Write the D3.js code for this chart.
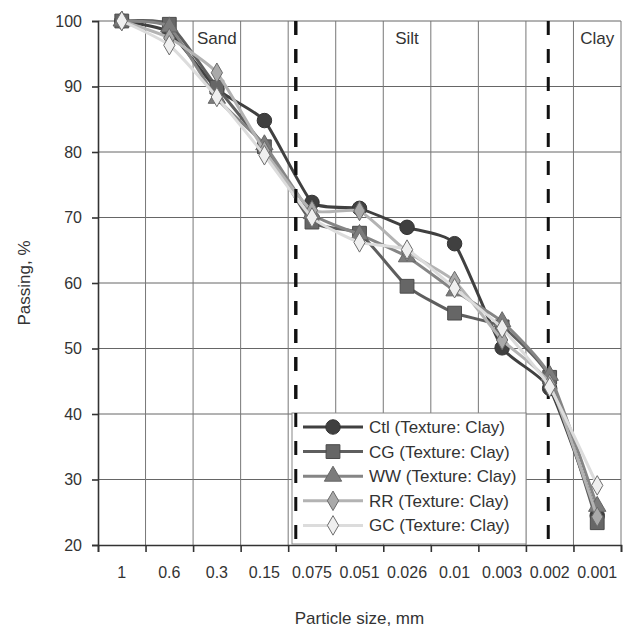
<!DOCTYPE html>
<html>
<head>
<meta charset="utf-8">
<script src="https://cdn.jsdelivr.net/npm/d3@7"></script>
<style>
  body { margin: 0; background: #fff; }
  text { font-family: "Liberation Sans", Arial, sans-serif; fill: #333; }
</style>
</head>
<body>
<div id="chart"></div>
<script>
// --------------------------------------
//  Data
// --------------------------------------

const sizes = ["1", "0.6", "0.3", "0.15", "0.075", "0.051", "0.026", "0.01", "0.003", "0.002", "0.001"];

const ctl = [100, 98.3, 89.6, 84.8, 72.3, 71.4, 68.5, 66.0, 50.1, 43.9, 24.5];
const cg  = [100, 99.5, 89.9, 80.8, 69.3, 67.6, 59.5, 55.4, 53.3, 45.6, 23.4];
const ww  = [100, 99.1, 88.2, 81.1, 70.6, 67.4, 64.0, 58.8, 54.1, 45.9, 25.9];
const rr  = [100, 97.4, 92.1, 80.2, 71.1, 71.0, 64.8, 60.3, 51.3, 44.6, 24.3];
const gc  = [100, 96.3, 88.4, 79.5, 70.0, 66.2, 65.1, 59.2, 53.1, 44.1, 29.1];

const seriesNames = ["Ctl (Texture: Clay)", "CG (Texture: Clay)", "WW (Texture: Clay)", "RR (Texture: Clay)", "GC (Texture: Clay)"];

const zones = [
  {name: "Sand", at: "0.3"},
  {name: "Silt", at: "0.026"},
  {name: "Clay", at: "0.001"}
];
// zone limits, in category units from the left edge
const zoneBreaks = [4.16, 9.47];

const yTicks = [20, 30, 40, 50, 60, 70, 80, 90, 100];

// --------------------------------------
//  Canvas
// --------------------------------------

const width = 634;
const height = 630;
const margin = {top: 21, right: 13, bottom: 85, left: 98};
const innerwidth = width - margin.left - margin.right;
const innerheight = height - margin.top - margin.bottom;

const svg = d3.select("#chart")
  .append("svg")
    .attr("width", width)
    .attr("height", height);

const inner = svg.append("g")
    .attr("transform", `translate(${margin.left}, ${margin.top})`);

// --------------------------------------
//  Scales
// --------------------------------------

const x = d3.scaleBand()
    .domain(sizes)
    .range([0, innerwidth])
    .padding(0);

const xi = d3.scaleLinear()
    .domain([0, sizes.length])
    .range([0, innerwidth]);

const y = d3.scaleLinear()
    .domain([20, 100])
    .range([innerheight, 0]);

const cx = d => x(d) + x.bandwidth() / 2;

// --------------------------------------
//  Grid
// --------------------------------------

inner.append("g")
  .selectAll("line")
  .data(yTicks.slice(1))
  .join("line")
    .attr("x1", 0)
    .attr("x2", innerwidth)
    .attr("y1", d => y(d))
    .attr("y2", d => y(d))
    .attr("stroke", "#666")
    .attr("stroke-width", 1);

inner.append("g")
  .selectAll("line")
  .data(d3.range(1, sizes.length + 1))
  .join("line")
    .attr("x1", d => xi(d))
    .attr("x2", d => xi(d))
    .attr("y1", 0)
    .attr("y2", innerheight)
    .attr("stroke", "#777")
    .attr("stroke-width", 1);

// zone dividers
inner.append("g")
  .selectAll("line")
  .data(zoneBreaks)
  .join("line")
    .attr("x1", d => xi(d))
    .attr("x2", d => xi(d))
    .attr("y1", 0)
    .attr("y2", innerheight)
    .attr("stroke", "#111")
    .attr("stroke-width", 3)
    .attr("stroke-dasharray", "14 14");

inner.append("g")
  .selectAll("text")
  .data(zones)
  .join("text")
    .attr("x", d => cx(d.at))
    .attr("y", 23)
    .attr("text-anchor", "middle")
    .attr("font-size", 17)
    .text(d => d.name);

// --------------------------------------
//  Axes
// --------------------------------------

const yAxis = inner.append("g")
    .call(d3.axisLeft(y)
      .tickValues(yTicks)
      .tickSize(6)
      .tickPadding(10));

const xTicks = inner.append("g")
    .attr("transform", `translate(0, ${innerheight})`)
    .call(d3.axisBottom(xi)
      .tickValues(d3.range(0, sizes.length + 1))
      .tickFormat("")
      .tickSize(7));

const xLabels = inner.append("g")
    .attr("transform", `translate(0, ${innerheight})`)
    .call(d3.axisBottom(x)
      .tickSize(0)
      .tickPadding(22));
xLabels.select(".domain").remove();

[yAxis, xTicks].forEach(g => {
  g.select(".domain").attr("stroke", "#333").attr("stroke-width", 1.6);
  g.selectAll(".tick line").attr("stroke", "#333").attr("stroke-width", 1.6);
});
[yAxis, xLabels].forEach(g => {
  g.selectAll("text")
    .attr("font-family", "Liberation Sans, Arial, sans-serif")
    .attr("font-size", 16)
    .attr("fill", "#333");
});

svg.append("text")
    .attr("x", margin.left + innerwidth / 2)
    .attr("y", 624)
    .attr("text-anchor", "middle")
    .attr("font-size", 17)
    .text("Particle size, mm");

svg.append("text")
    .attr("transform", `translate(30, ${margin.top + innerheight / 2}) rotate(-90)`)
    .attr("text-anchor", "middle")
    .attr("font-size", 17)
    .text("Passing, %");

// --------------------------------------
//  Series
// --------------------------------------

const styles = [
  {values: ctl, line: "#404040", fill: "#404040", stroke: "#333", shape: d3.symbolCircle, size: 165},
  {values: cg,  line: "#5e5e5e", fill: "#666",    stroke: "#4a4a4a", shape: d3.symbolSquare, size: 190},
  {values: ww,  line: "#858585", fill: "#7c7c7c", stroke: "#666", shape: d3.symbolTriangle, size: 130},
  {values: rr,  line: "#b3b3b3", fill: "#a9a9a9", stroke: "#6a6a6a", shape: d3.symbolDiamond, size: 110},
  {values: gc,  line: "#dcdcdc", fill: "#efefef", stroke: "#6e6e6e", shape: d3.symbolDiamond, size: 110}
];

const line = d3.line()
    .x((d, i) => cx(sizes[i]))
    .y(d => y(d))
    .curve(d3.curveCardinal.tension(0.5));

styles.forEach(s => {
  const g = inner.append("g");
  g.append("path")
    .attr("d", line(s.values))
    .attr("fill", "none")
    .attr("stroke", s.line)
    .attr("stroke-width", 3);
  g.selectAll("path.m")
    .data(s.values)
    .join("path")
      .attr("class", "m")
      .attr("transform", (d, i) => `translate(${cx(sizes[i])}, ${y(d)})`)
      .attr("d", d3.symbol(s.shape, s.size))
      .attr("fill", s.fill)
      .attr("stroke", s.stroke)
      .attr("stroke-width", 1);
});

// --------------------------------------
//  Legend
// --------------------------------------

const legend = svg.append("g")
    .attr("transform", "translate(292, 413)");

legend.append("rect")
    .attr("width", 234)
    .attr("height", 131)
    .attr("fill", "#fff")
    .attr("stroke", "#888")
    .attr("stroke-width", 1);

const rows = legend.selectAll("g.row")
  .data(styles)
  .join("g")
    .attr("class", "row")
    .attr("transform", (d, i) => `translate(0, ${14 + i * 24.6})`);

rows.append("line")
    .attr("x1", 11)
    .attr("x2", 71)
    .attr("stroke", d => d.line)
    .attr("stroke-width", 3);

rows.append("path")
    .attr("transform", "translate(41, 0)")
    .attr("d", d => d3.symbol(d.shape, d.size)())
    .attr("fill", d => d.fill)
    .attr("stroke", d => d.stroke)
    .attr("stroke-width", 1);

rows.append("text")
    .attr("x", 77)
    .attr("dy", "0.35em")
    .attr("font-size", 17)
    .text((d, i) => seriesNames[i]);

// first zone divider stays over the legend box
svg.append("line")
    .attr("x1", margin.left + xi(zoneBreaks[0]))
    .attr("x2", margin.left + xi(zoneBreaks[0]))
    .attr("y1", margin.top)
    .attr("y2", margin.top + innerheight)
    .attr("stroke", "#111")
    .attr("stroke-width", 3)
    .attr("stroke-dasharray", "14 14");
</script>
</body>
</html>
